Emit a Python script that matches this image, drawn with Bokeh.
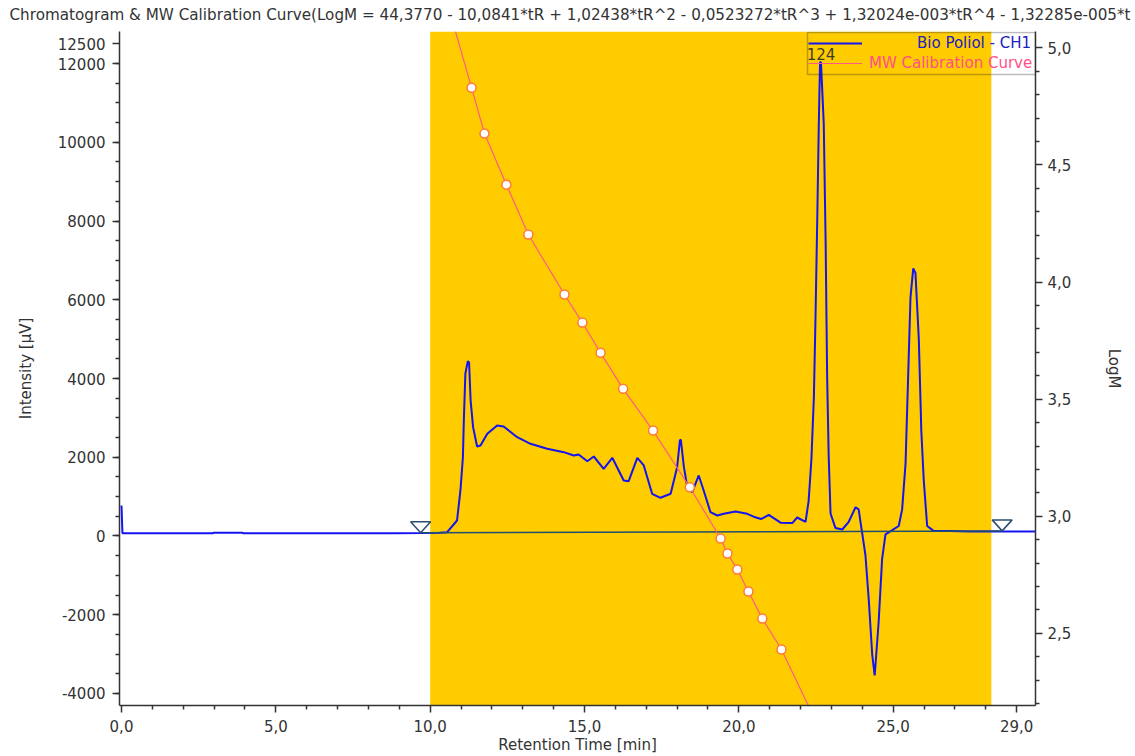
from bokeh.plotting import figure
from bokeh.models import (Range1d, LinearAxis, FixedTicker, CustomJSTickFormatter,
                          BoxAnnotation, Legend, LegendItem)
from bokeh.embed import file_html
from bokeh.resources import INLINE
from bokeh.core.properties import value

FONT = "DejaVu Sans"
FS = "15px"

# the reference title is cut at the right edge of the window after "*t"
title_text = ("Chromatogram & MW Calibration Curve(LogM = 44,3770 - 10,0841*tR + 1,02438*tR^2"
              " - 0,0523272*tR^3 + 1,32024e-003*tR^4 - 1,32285e-005*t")

# ---- chromatogram (Bio Poliol - CH1) ----
rt = [0.0, 0.03, 1.0, 2.95, 3.0, 3.9, 3.95, 6.0, 8.9, 9.7, 10.3, 10.55, 10.87, 10.98,
      11.06, 11.09, 11.14, 11.22, 11.26, 11.31, 11.39, 11.52, 11.63, 11.85, 12.17, 12.38,
      12.82, 13.25, 13.79, 14.33, 14.65, 14.81, 15.09, 15.30, 15.62, 15.90, 16.27, 16.43,
      16.71, 16.92, 17.19, 17.46, 17.79, 18.00, 18.09, 18.12, 18.22, 18.33, 18.49, 18.70,
      18.86, 19.08, 19.30, 19.51, 19.89, 20.27, 20.48, 20.72, 20.97, 21.35, 21.73, 21.89,
      22.16, 22.26, 22.35, 22.43, 22.48, 22.54, 22.59, 22.63, 22.66, 22.75, 22.81, 22.86,
      22.91, 22.97, 23.13, 23.35, 23.56, 23.78, 23.88, 23.99, 24.10, 24.21, 24.32, 24.40,
      24.53, 24.64, 24.75, 24.97, 25.18, 25.29, 25.40, 25.48, 25.56, 25.65, 25.72, 25.83,
      25.91, 25.99, 26.10, 26.31, 26.80, 27.5, 28.5, 29.61]
intensity = [775, 70, 70, 70, 85, 85, 70, 72, 70, 75, 80, 96, 394, 1156,
             2001, 2934, 4128, 4440, 4407, 3442, 2764, 2273, 2299, 2596, 2807, 2781,
             2510, 2342, 2215, 2129, 2045, 2070, 1900, 2019, 1707, 1986, 1410, 1392,
             1986, 1791, 1072, 970, 1072, 1748, 2426, 2451, 1748, 1240, 1113, 1537,
             1156, 605, 521, 564, 622, 564, 490, 430, 538, 338, 328, 470,
             361, 886, 1943, 3523, 5423, 8054, 10477, 12030, 12030, 10477, 7531, 4051,
             2045, 572, 201, 165, 361, 729, 676, 97, -483, -1638, -3010, -3543,
             -2172, -589, 43, 150, 254, 676, 1842, 3942, 6058, 6795, 6683, 4996,
             2680, 1415, 254, 130, 130, 115, 115, 115]

# ---- MW calibration ----
cal_t = [11.34, 11.76, 12.47, 13.18, 14.35, 14.93, 15.52, 16.25, 17.22, 18.41,
         19.41, 19.63, 19.95, 20.31, 20.76, 21.38]
cal_logm = [4.830, 4.634, 4.416, 4.203, 3.947, 3.827, 3.698, 3.544, 3.366, 3.124,
            2.905, 2.841, 2.773, 2.679, 2.563, 2.431]
curve_t = [10.82] + cal_t + [22.25]
curve_logm = [5.070] + cal_logm + [2.192]

# ---- slice window / baseline / peak label ----
band_start, band_end = 10.0, 28.18
baseline_t = [9.69, 28.53]
baseline_i = [80, 130]
peak_labels = ["124"]
peak_t = [22.66]
peak_i = [12030]

# ---- ticks ----
x_ticks = [0, 5, 10, 15, 20, 25, 29]
x_minor = [1, 2, 3, 4, 6, 7, 8, 9, 11, 12, 13, 14, 16, 17, 18, 19, 21, 22, 23, 24, 26, 27, 28]
y_ticks = [-4000, -2000, 0, 2000, 4000, 6000, 8000, 10000, 12000, 12500]
y_minor = [-4000, -3500, -3000, -2500, -2000, -1500, -1000, -500, 0, 500, 1000, 1500,
           2000, 2500, 3000, 3500, 4000, 4500, 5000, 5500, 6000, 6500, 7000, 7500,
           8000, 8500, 9000, 9500, 10000, 10500, 11000, 11500, 12000]
logm_ticks = [2.5, 3.0, 3.5, 4.0, 4.5, 5.0]
logm_minor = [2.2, 2.3, 2.4, 2.6, 2.7, 2.8, 2.9, 3.1, 3.2, 3.3, 3.4, 3.6, 3.7, 3.8, 3.9,
              4.1, 4.2, 4.3, 4.4, 4.6, 4.7, 4.8, 4.9]

X0, X1 = -0.065, 29.61
Y0, Y1 = -4305, 12813
L0, L1 = 2.192, 5.070

W, H = 1135, 756
BL, BR, BT, BB = 119, 100, 31, 51
FW, FH = W - BL - BR, H - BT - BB

p = figure(width=W, height=H, output_backend="svg", toolbar_location=None,
           x_range=Range1d(X0, X1), y_range=Range1d(Y0, Y1),
           min_border_left=BL, min_border_right=BR, min_border_top=BT, min_border_bottom=BB,
           background_fill_color="white", border_fill_color="white")
p.outline_line_color = None
p.xgrid.visible = False
p.ygrid.visible = False
p.extra_y_ranges = {"logm": Range1d(L0, L1)}

# title
p.title.text = title_text
p.title.align = "left"
p.title.offset = -110
p.title.text_font = FONT
p.title.text_font_size = "15.2px"
p.title.text_font_style = "normal"
p.title.text_color = "#333333"
p.title.vertical_align = "top"
p.title.standoff = 11

fmt = CustomJSTickFormatter(code="return tick.toFixed(1).replace('.', ',');")
int_fmt = CustomJSTickFormatter(code="return String(Math.round(tick));")

def style_axis(ax):
    ax.axis_line_color = "#333333"
    ax.axis_line_width = 1.5
    ax.major_tick_line_color = "#333333"
    ax.minor_tick_line_color = "#333333"
    ax.major_tick_line_width = 1.5
    ax.minor_tick_line_width = 1.5
    ax.major_tick_in = 0
    ax.minor_tick_in = 0
    ax.major_tick_out = 7
    ax.minor_tick_out = 4
    ax.major_label_text_font = FONT
    ax.major_label_text_font_size = FS
    ax.major_label_text_color = "#333333"
    ax.axis_label_text_font = FONT
    ax.axis_label_text_font_size = FS
    ax.axis_label_text_font_style = "normal"
    ax.axis_label_text_color = "#333333"

xa = p.xaxis[0]
style_axis(xa)
xa.ticker = FixedTicker(ticks=x_ticks, minor_ticks=x_minor)
xa.formatter = fmt
xa.axis_label = "Retention Time [min]"
xa.major_label_standoff = 7
xa.axis_label_standoff = 1

ya = p.yaxis[0]
style_axis(ya)
ya.ticker = FixedTicker(ticks=y_ticks, minor_ticks=y_minor)
ya.formatter = int_fmt
ya.axis_label = "Intensity [µV]"
ya.major_label_standoff = 7
ya.axis_label_standoff = 20

ra = LinearAxis(y_range_name="logm")
style_axis(ra)
ra.ticker = FixedTicker(ticks=logm_ticks, minor_ticks=logm_minor)
ra.formatter = fmt
ra.axis_label = "LogM"
ra.major_label_standoff = 5
ra.axis_label_standoff = 31
p.add_layout(ra, "right")

# yellow slice window
p.add_layout(BoxAnnotation(left=band_start, right=band_end, fill_color="#FFCC00",
                           fill_alpha=1.0, line_alpha=0, level="underlay"))

# chromatogram
chrom = p.line(rt, intensity, line_color="#1414f0", line_width=2)

# baseline + integration markers
p.line(baseline_t, baseline_i, line_color="#1f4e6e", line_width=1.5)
dx = (X1 - X0) / FW
dy = (Y1 - Y0) / FH
tri_xs = [[t - 10 * dx, t + 10 * dx, t] for t in baseline_t]
tri_ys = [[b + 11 * dy, b + 11 * dy, b] for b in baseline_i]
p.patches(tri_xs, tri_ys, fill_alpha=0, line_color="#2b4d6e", line_width=1.5)

# calibration curve
cal_line = p.line(curve_t, curve_logm, y_range_name="logm", line_color="#ff5a8a", line_width=1.2)
p.scatter(cal_t, cal_logm, y_range_name="logm", size=9, fill_color="white",
          line_color="#ff7a3a", line_width=1.5)

# peak label
p.text(peak_t, peak_i, text=peak_labels, text_font=value(FONT), text_font_size=FS,
       text_color="#3c3c2a", text_align="center", text_baseline="bottom", y_offset=-2)

# legend
common = dict(padding=0, margin=0, spacing=0, glyph_width=54, glyph_height=20,
              label_height=20, label_text_font=FONT, label_text_font_size=FS,
              background_fill_alpha=0, border_line_alpha=0)
leg1 = Legend(items=[LegendItem(label="Bio Poliol - CH1", renderers=[chrom])],
              location=(689, 652), label_standoff=55, label_text_color="#2020c0", **common)
leg2 = Legend(items=[LegendItem(label="MW Calibration Curve", renderers=[cal_line])],
              location=(689, 632), label_standoff=7, label_text_color="#ff4f8b", **common)
p.add_layout(leg1, "center")
p.add_layout(leg2, "center")
p.add_layout(BoxAnnotation(left=688, right=916, bottom=631, top=673,
                           left_units="screen", right_units="screen",
                           bottom_units="screen", top_units="screen",
                           fill_alpha=0, line_color="#222222", line_width=1.5))

open("out.html", "w").write(file_html(p, INLINE))
